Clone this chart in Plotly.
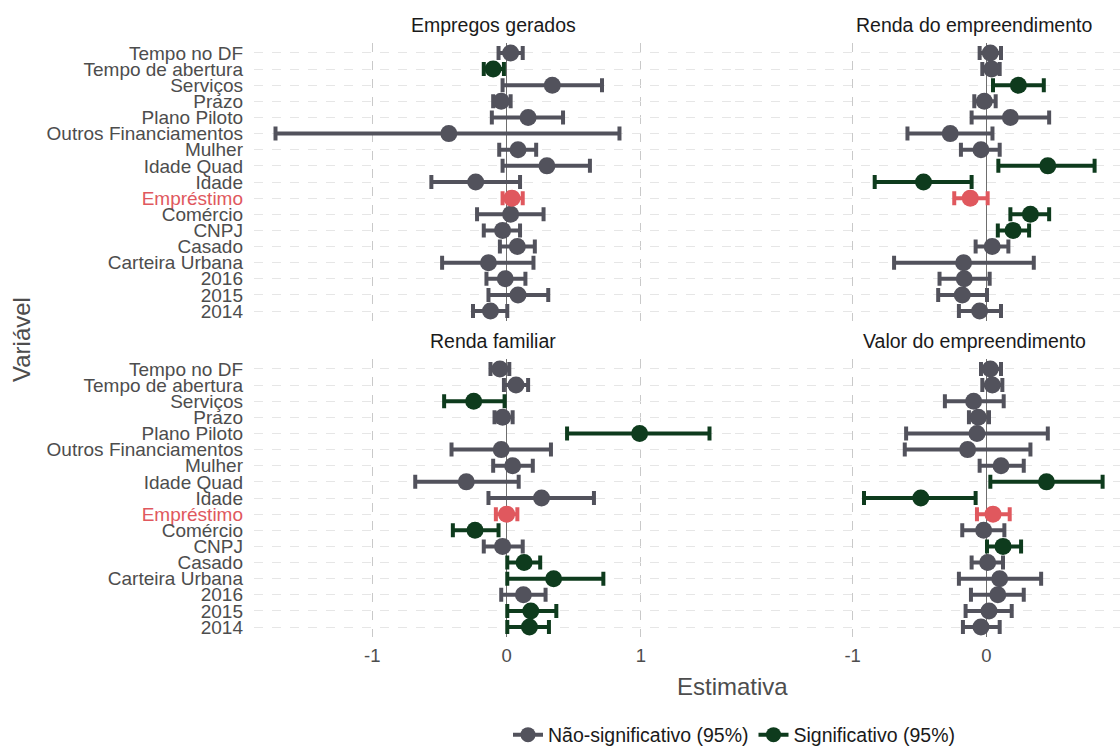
import plotly.graph_objects as go

# ---------------- data ----------------
categories = ["Tempo no DF", "Tempo de abertura", "Serviços", "Prazo", "Plano Piloto",
              "Outros Financiamentos", "Mulher", "Idade Quad", "Idade", "Empréstimo",
              "Comércio", "CNPJ", "Casado", "Carteira Urbana", "2016", "2015", "2014"]

panel_titles = ["Empregos gerados", "Renda do empreendimento", "Renda familiar", "Valor do empreendimento"]

empregos_est = [0.03, -0.10, 0.34, -0.04, 0.16, -0.43, 0.085, 0.30, -0.23, 0.04, 0.03, -0.03, 0.08, -0.135, -0.01, 0.085, -0.12]
empregos_lo  = [-0.06, -0.17, -0.03, -0.10, -0.11, -1.72, -0.055, -0.03, -0.56, -0.03, -0.22, -0.17, -0.05, -0.48, -0.15, -0.135, -0.25]
empregos_hi  = [0.12, -0.02, 0.71, 0.03, 0.42, 0.84, 0.22, 0.62, 0.10, 0.12, 0.275, 0.10, 0.21, 0.20, 0.14, 0.31, 0.005]

renda_emp_est = [0.03, 0.04, 0.24, -0.015, 0.18, -0.27, -0.04, 0.46, -0.47, -0.12, 0.33, 0.20, 0.044, -0.17, -0.165, -0.18, -0.05]
renda_emp_lo  = [-0.05, -0.03, 0.05, -0.09, -0.11, -0.59, -0.19, 0.09, -0.835, -0.24, 0.18, 0.086, -0.08, -0.69, -0.35, -0.36, -0.205]
renda_emp_hi  = [0.11, 0.10, 0.43, 0.07, 0.47, 0.046, 0.10, 0.81, -0.11, 0.01, 0.47, 0.32, 0.165, 0.355, 0.025, 0.005, 0.11]

renda_fam_est = [-0.05, 0.07, -0.245, -0.03, 0.99, -0.04, 0.045, -0.30, 0.26, 0.0, -0.235, -0.03, 0.13, 0.35, 0.125, 0.18, 0.17]
renda_fam_lo  = [-0.12, -0.02, -0.465, -0.09, 0.45, -0.41, -0.10, -0.68, -0.135, -0.08, -0.40, -0.17, 0.005, 0.005, -0.04, 0.005, 0.005]
renda_fam_hi  = [0.02, 0.16, -0.015, 0.045, 1.51, 0.33, 0.195, 0.09, 0.65, 0.08, -0.06, 0.12, 0.25, 0.72, 0.29, 0.37, 0.315]

valor_emp_est = [0.03, 0.045, -0.095, -0.06, -0.07, -0.14, 0.11, 0.45, -0.49, 0.05, -0.02, 0.125, 0.01, 0.10, 0.086, 0.02, -0.04]
valor_emp_lo  = [-0.04, -0.03, -0.31, -0.13, -0.60, -0.61, -0.05, 0.03, -0.915, -0.07, -0.18, 0.005, -0.11, -0.205, -0.115, -0.155, -0.175]
valor_emp_hi  = [0.11, 0.12, 0.13, 0.02, 0.46, 0.33, 0.28, 0.87, -0.08, 0.175, 0.135, 0.26, 0.125, 0.41, 0.28, 0.19, 0.10]

x_ticks = [-1, 0, 1]
legend_names = ["Não-significativo (95%)", "Significativo (95%)"]
highlight = "Empréstimo"

# ---------------- style ----------------
W, H = 1120, 748
GRAY = "#52525c"
GREEN = "#0e3b1d"
RED = "#e0585e"
FONT = "Liberation Sans, Arial, sans-serif"

panels = [
    (empregos_est, empregos_lo, empregos_hi),
    (renda_emp_est, renda_emp_lo, renda_emp_hi),
    (renda_fam_est, renda_fam_lo, renda_fam_hi),
    (valor_emp_est, valor_emp_lo, valor_emp_hi),
]

def px_x(p):
    return p / W

def px_y(p):
    return 1 - p / H

left_dom = [px_x(254), px_x(731)]
right_dom = [px_x(735), 1.0]
top_dom = [px_y(320.7), px_y(43.3)]
bot_dom = [px_y(636.7), px_y(359.3)]
left_range = [-1.88, 1.67]
right_range = [-1.88, 1.0]

fig = go.Figure()

for i, (est, lo, hi) in enumerate(panels):
    ax = "" if i == 0 else str(i + 1)
    xref, yref = "x" + ax, "y" + ax
    groups = {"ns": [], "s": [], "hl": []}
    for j, cat in enumerate(categories):
        if cat == highlight:
            groups["hl"].append(j)
        elif lo[j] > 0 or hi[j] < 0:
            groups["s"].append(j)
        else:
            groups["ns"].append(j)
    for key, color in (("ns", GRAY), ("s", GREEN), ("hl", RED)):
        idx = groups[key]
        if not idx:
            continue
        fig.add_trace(go.Scatter(
            x=[est[j] for j in idx],
            y=[categories[j] for j in idx],
            mode="markers",
            marker=dict(color=color, size=17, line=dict(width=0)),
            error_x=dict(type="data", symmetric=False,
                         array=[hi[j] - est[j] for j in idx],
                         arrayminus=[est[j] - lo[j] for j in idx],
                         color=color, thickness=4, width=7),
            xaxis=xref, yaxis=yref, showlegend=False, hoverinfo="skip",
        ))

# legend entries
for name, color in zip(legend_names, (GRAY, GREEN)):
    fig.add_trace(go.Scatter(
        x=[None], y=[None], mode="lines+markers", name=name,
        line=dict(color=color, width=4), marker=dict(color=color, size=15),
        xaxis="x", yaxis="y", showlegend=True,
    ))

tick_text = [f"<span style='color:{RED}'>{c}</span>" if c == highlight else c for c in categories]
cat_order = list(reversed(categories))

def yaxis_cfg(dom, anchor, labels):
    return dict(domain=dom, anchor=anchor, type="category",
                categoryorder="array", categoryarray=cat_order,
                range=[-0.6, len(categories) - 0.4],
                tickmode="array", tickvals=categories, ticktext=tick_text,
                showticklabels=labels, ticks="", ticklabelstandoff=10,
                tickfont=dict(family=FONT, size=19, color="#4d4d4d"),
                showgrid=True, gridcolor="#e6e6e6", griddash="dash", gridwidth=1,
                zeroline=False, showline=False, fixedrange=True, automargin=False)

def xaxis_cfg(dom, anchor, rng, labels):
    return dict(domain=dom, anchor=anchor, range=rng, tickmode="array", tickvals=x_ticks,
                ticktext=[str(v) for v in x_ticks],
                showticklabels=labels, ticks="", ticklabelstandoff=6,
                tickfont=dict(family=FONT, size=18.5, color="#4d4d4d"),
                showgrid=True, gridcolor="#c9c9c9", griddash="dash", gridwidth=1,
                zeroline=True, zerolinecolor="#6e6e6e", zerolinewidth=1.2,
                showline=False, fixedrange=True, automargin=False)

fig.update_layout(
    width=W, height=H,
    margin=dict(l=0, r=0, t=0, b=0, pad=0, autoexpand=False),
    paper_bgcolor="white", plot_bgcolor="white",
    font=dict(family=FONT, color="#1a1a1a"),
    xaxis=xaxis_cfg(left_dom, "y", left_range, False),
    yaxis=yaxis_cfg(top_dom, "x", True),
    xaxis2=xaxis_cfg(right_dom, "y2", right_range, False),
    yaxis2=yaxis_cfg(top_dom, "x2", False),
    xaxis3=xaxis_cfg(left_dom, "y3", left_range, True),
    yaxis3=yaxis_cfg(bot_dom, "x3", True),
    xaxis4=xaxis_cfg(right_dom, "y4", right_range, True),
    yaxis4=yaxis_cfg(bot_dom, "x4", False),
    showlegend=True,
    legend=dict(orientation="h", x=px_x(734), xanchor="center", y=px_y(735), yanchor="middle",
                font=dict(family=FONT, size=19.5, color="#1a1a1a"),
                itemwidth=30, bgcolor="rgba(0,0,0,0)", traceorder="normal"),
)

title_pos = [(493, 25), (974, 25), (493, 341), (974, 341)]
for (tx, ty), t in zip(title_pos, panel_titles):
    fig.add_annotation(text=t, x=px_x(tx), y=px_y(ty), xref="paper", yref="paper",
                       showarrow=False, xanchor="center", yanchor="middle",
                       font=dict(family=FONT, size=19.5, color="#1a1a1a"))

fig.add_annotation(text="Estimativa", x=px_x(732), y=px_y(686), xref="paper", yref="paper",
                   showarrow=False, xanchor="center", yanchor="middle",
                   font=dict(family=FONT, size=24, color="#4d4d4d"))
fig.add_annotation(text="Variável", x=px_x(21), y=px_y(340), xref="paper", yref="paper",
                   showarrow=False, textangle=-90, xanchor="center", yanchor="middle",
                   font=dict(family=FONT, size=24, color="#4d4d4d"))

fig.write_html("out.html")
